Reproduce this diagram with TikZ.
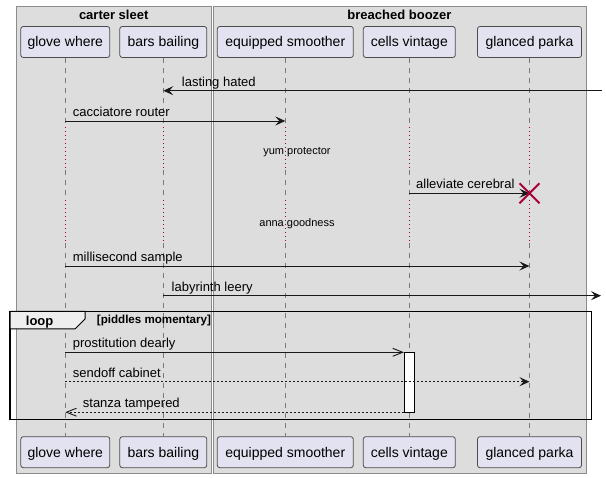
\documentclass[tikz,border=0pt]{standalone}
\usepackage{fontspec}
\setmainfont{Liberation Sans}
\usetikzlibrary{arrows.meta}
\definecolor{boxbg}{HTML}{DDDDDD}
\definecolor{boxline}{HTML}{8C8C8C}
\definecolor{partbg}{HTML}{E2E2F0}
\definecolor{lifegray}{HTML}{7A7A7A}
\definecolor{crimson}{HTML}{A80036}
\definecolor{tabbg}{HTML}{EEEEEE}

\begin{document}
\begin{tikzpicture}[x=1pt,y=-1pt,
	part/.style={draw=black!70,fill=partbg,rounded corners=2.5pt,line width=0.8pt,
		minimum height=31pt,inner sep=0pt,text height=11pt,text depth=1pt,
		font=\fontsize{14}{16}\selectfont},
	grouptitle/.style={anchor=base,inner sep=0pt,font=\fontsize{13}{15}\selectfont\bfseries},
	life/.style={lifegray,line width=0.8pt,dash pattern=on 5pt off 5pt},
	delay/.style={crimson,line width=0.8pt,dash pattern=on 1pt off 3pt},
	lbl/.style={anchor=base west,inner sep=0pt,font=\fontsize{13}{15}\selectfont},
	delaytext/.style={anchor=base,inner sep=0pt,font=\fontsize{11}{13}\selectfont},
	msg/.style={black!90,line width=0.9pt,-{Stealth[length=10pt,width=9pt,inset=4pt]}},
	msgopen/.style={black!90,line width=0.9pt,-{Straight Barb[length=10pt,width=8pt]}},
	reply/.style={dash pattern=on 2pt off 2pt}]
	\fill[white] (0,0) rectangle (606,478);
	\useasboundingbox (0,0) rectangle (606,478);
	% boxes
	\draw[boxline,fill=boxbg] (16,6) rectangle (211.3,473.3);
	\draw[boxline,fill=boxbg] (213.3,6) rectangle (585.7,473.3);
	\node[grouptitle] (carter) at (113.7,19.5) {carter sleet};
	\node[grouptitle] (breached) at (399.5,19.5) {breached boozer};
	% lifelines
	\foreach \p/\x in {gw/65.3,bb/163.3,es/285.3,cv/409.3,gp/529.5}{
		\coordinate (\p-a) at (\x,58);
		\coordinate (\p-b) at (\x,436);
		\draw[life] (\p-a) -- (\p-a |- 0,127);
		\draw[delay] (\p-a |- 0,127) -- (\p-a |- 0,170);
		\draw[life] (\p-a |- 0,170) -- (\p-a |- 0,200);
		\draw[delay] (\p-a |- 0,200) -- (\p-a |- 0,243);
		\draw[life] (\p-a |- 0,243) -- (\p-b);
	}
	% participants
	\node[part,minimum width=89pt] (gw-top) at (65.3,42) {glove where};
	\node[part,minimum width=87pt] (bb-top) at (163.3,42) {bars bailing};
	\node[part,minimum width=136pt] (es-top) at (285.3,42) {equipped smoother};
	\node[part,minimum width=92pt] (cv-top) at (409.3,42) {cells vintage};
	\node[part,minimum width=104pt] (gp-top) at (529.5,42) {glanced parka};
	\node[part,minimum width=89pt] (gw-bot) at (65.3,452.2) {glove where};
	\node[part,minimum width=87pt] (bb-bot) at (163.3,452.2) {bars bailing};
	\node[part,minimum width=136pt] (es-bot) at (285.3,452.2) {equipped smoother};
	\node[part,minimum width=92pt] (cv-bot) at (409.3,452.2) {cells vintage};
	\node[part,minimum width=104pt] (gp-bot) at (529.5,452.2) {glanced parka};
	\coordinate (redge) at (602,0);
	\coordinate (redge2) at (601,0);
	% messages
	\draw[msg] (redge |- 0,90.7) -- (bb-a |- 0,90.7);
	\node[lbl] (m1) at (181.7,86.3) {lasting hated};
	\draw[msg] (gw-a |- 0,121) -- (es-a |- 0,121);
	\node[lbl] (m2) at (72.7,116.8) {cacciatore router};
	\node[delaytext] (d1) at (297,155) {yum protector};
	\draw[msg] (cv-a |- 0,193.3) -- (gp-a |- 0,193.3);
	\node[lbl] (m3) at (416,189) {alleviate cerebral};
	\node[delaytext] (d2) at (297,227) {anna goodness};
	\draw[msg] (gw-a |- 0,266) -- (gp-a |- 0,266);
	\node[lbl] (m4) at (72.7,261.8) {millisecond sample};
	\draw[msg] (bb-a |- 0,295.7) -- (redge2 |- 0,295.7);
	\node[lbl] (m5) at (171.5,291.5) {labyrinth leery};
	% loop
	\node[draw=black,fill=white,line width=0.8pt,minimum width=10.4pt,minimum height=60.4pt,inner sep=0pt] (act) at (409.5,382.5) {};
	\draw[msgopen] (gw-a |- 0,352.3) -- (act.west |- 0,352.3);
	\node[lbl] (m6) at (72.7,348) {prostitution dearly};
	\draw[msg,reply] (gw-a |- 0,381.7) -- (gp-a |- 0,381.7);
	\node[lbl] (m7) at (72.7,377.5) {sendoff cabinet};
	\draw[msgopen,reply] (act.west |- 0,412.2) -- (gw-a |- 0,412.2);
	\node[lbl] (m8) at (82.7,408) {stanza tampered};
	\draw[line width=1.5pt] (10,311.5) rectangle (591.7,419.5);
	\draw[fill=tabbg,line width=1pt] (10,311.5) -- (85,311.5) -- (85,319) -- (75,329) -- (10,329) -- cycle;
	\node[lbl,font=\fontsize{13}{15}\selectfont\bfseries] (looplbl) at (25.7,325.5) {loop};
	\node[lbl,font=\fontsize{11.6}{13}\selectfont\bfseries] (guard) at (96.7,324) {[piddles momentary]};
	% destroy
	\coordinate (kill) at (gp-a |- 0,193.3);
	\draw[crimson,line width=2pt] ([shift={(-10,-10)}]kill) -- ([shift={(10,10)}]kill)
		([shift={(-10,10)}]kill) -- ([shift={(10,-10)}]kill);
\end{tikzpicture}
\end{document}
